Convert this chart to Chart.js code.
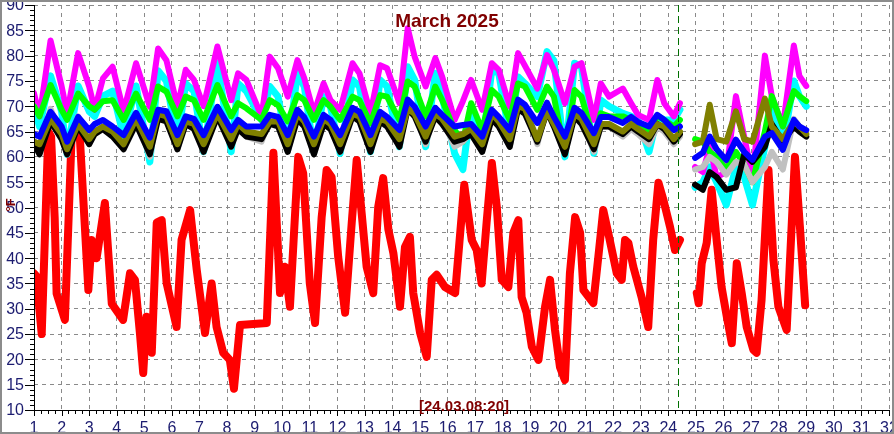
<!DOCTYPE html>
<html>
<head>
<meta charset="utf-8">
<title>March 2025</title>
<script src="https://cdn.jsdelivr.net/npm/chart.js@4/dist/chart.umd.min.js"></script>
<style>
  html, body { margin: 0; padding: 0; background: #fff; }
  #wrap { width: 894px; height: 434px; }
</style>
</head>
<body>
<div id="wrap"><canvas id="grafico" width="894" height="434"></canvas></div>
<script>
const TITULO = "March 2025";
const CARIMBO = "[24.03.08:20]";
const UNIDADE = "°F";
const MARCA_DIA = 24.35;
const X_TICKS = [1, 2, 3, 4, 5, 6, 7, 8, 9, 10, 11, 12, 13, 14, 15, 16, 17, 18, 19, 20, 21, 22, 23, 24, 25, 26, 27, 28, 29, 30, 31, 32];
const Y_TICKS = [10, 15, 20, 25, 30, 35, 40, 45, 50, 55, 60, 65, 70, 75, 80, 85, 90];
const GAP_AT = 24.7;

// sensores "de cima" - dois trechos (antes e depois da falha)
const TEMPOS_A = [1.0, 1.2, 1.6, 2.0, 2.2, 2.6, 3.0, 3.2, 3.5, 3.85,
  4.25, 4.7, 5.2, 5.5, 5.8, 6.2, 6.5, 6.8, 7.15, 7.65,
  8.15, 8.4, 8.7, 9.25, 9.55, 9.85, 10.2, 10.55, 10.8, 11.15,
  11.5, 11.75, 12.1, 12.55, 12.8, 13.2, 13.55, 13.8, 14.25, 14.55,
  14.8, 15.2, 15.55, 15.8, 16.25, 16.55, 16.85, 17.25, 17.6, 17.85,
  18.25, 18.55, 18.8, 19.25, 19.6, 19.85, 20.25, 20.6, 20.85, 21.3,
  21.55, 21.85, 22.35, 22.65, 22.9, 23.3, 23.6, 23.85, 24.2, 24.42];
const TEMPOS_B = [24.97, 25.25, 25.5, 25.75, 26.1, 26.45, 26.75, 27.05, 27.5, 27.75, 28.15, 28.55, 28.75, 29.0];

const AZUL_A = [64.5, 64, 68.9, 66, 63, 67.9, 65.3, 66.5, 67.3, 66,
  64.3, 68.7, 63.8, 69.3, 69, 64.3, 68, 67.5, 64.3, 69.9,
  65.3, 67.3, 66, 66, 68.3, 67.9, 64.3, 69.3, 67.8, 64,
  68.3, 67.3, 64.3, 69.7, 68.9, 64.3, 68.9, 67.9, 65.3, 71.3,
  69.9, 66, 69.7, 68.3, 66, 66.3, 66.5, 64, 69.3, 67.9,
  65.3, 71.3, 70.3, 66.7, 70.7, 67.9, 64, 69.7, 68.7, 64.7,
  67.9, 67.9, 66.7, 67.9, 66.9, 66, 68.3, 67.3, 65.3, 66];
const AZUL_B = [59.8, 60.8, 64, 61.5, 59.4, 63.4, 61, 59.4, 64, 64.7, 61.4, 67.3, 66, 65.3];

const OLIVA_A = [63, 62.5, 67.5, 64.5, 61.5, 66.5, 63.5, 65, 66, 65,
  62.5, 67.5, 62, 68.5, 68, 62.5, 67, 66.5, 62.5, 68.5,
  63.5, 66.5, 65, 64.5, 67, 67, 62.5, 68.5, 67, 62.5,
  67.5, 66.5, 62.5, 68.5, 68, 62.5, 67.5, 67, 63.5, 69.5,
  68.5, 64, 68.5, 67.5, 64, 64.5, 65.5, 62.5, 68.5, 67,
  63.5, 70, 69.5, 63.5, 69, 66.5, 62, 68.5, 67.5, 62.5,
  66.5, 66.5, 65, 66.5, 65.5, 64, 66.5, 66, 63.5, 65];
const OLIVA_B = [62.5, 63, 70.3, 63.5, 63, 69, 63.5, 63, 71.5, 66, 63.5, 67, 66, 64.5];

const PRETO_A = [62.5, 60.5, 67, 63.5, 60.5, 66, 62.5, 64.5, 65.5, 64,
  61.5, 66.5, 60.5, 67.5, 67, 61.5, 66.5, 65.5, 61, 68,
  62, 65.5, 64, 63.5, 66.5, 66, 61, 67.5, 66, 60.5,
  66.5, 65.5, 61, 68, 67, 61, 67, 66, 62, 69.5,
  68, 63, 68, 66.5, 63, 63.5, 64.5, 61, 67.5, 66,
  62, 69.5, 68.5, 63, 69, 66, 60.5, 68, 66.5, 61.5,
  66, 66, 64.5, 66, 65, 63.5, 66.5, 65.5, 63, 64.5];
const PRETO_B = [54.5, 53.5, 57, 56, 53.5, 54, 60.5, 59, 62, 66.5, 63, 66, 65, 64];

const CINZA_A = [63.5, 61.5, 69.5, 64, 60.5, 68, 62.5, 65, 66.5, 65,
  61.5, 68, 60, 69, 68.5, 61.5, 67.5, 66.5, 61, 69,
  62, 66.5, 64, 63, 67.5, 67, 61, 68.5, 67, 60.5,
  67.5, 66.5, 61, 69, 68, 61.5, 68, 67, 62, 70.5,
  69, 62.5, 69, 67.5, 62, 63, 65, 61, 68.5, 67,
  62, 70.5, 69.5, 62.5, 70, 66.5, 60.5, 69, 67.5, 61,
  66, 66, 64, 65.5, 64.5, 62.5, 66, 65, 62.5, 64];
const CINZA_B = [57.5, 58, 60, 59, 56.5, 59, 58.5, 55, 58, 61, 57.5, 67.5, 66, 65];

const VERDE_A = [70, 68, 74.2, 69.3, 67.3, 72.5, 70, 69.3, 71, 71.2,
  67.3, 72.5, 67.3, 73.9, 72.9, 68, 71.9, 71.2, 67.3, 74.2,
  68, 70.6, 69.6, 67.3, 71.2, 70.2, 67, 72.2, 71.2, 67.3,
  71.2, 69.9, 67.3, 71.9, 71.2, 66.6, 72.2, 71.9, 67.3, 74.9,
  73.9, 68, 73.9, 71.2, 65.3, 63, 70.6, 65.3, 73.2, 71.9,
  67.3, 74.5, 73.9, 69.3, 73.9, 71.9, 60.7, 73.2, 71.9, 63.3,
  68.6, 68, 68, 67.3, 66.6, 65.3, 68, 67.3, 66, 67.3];
const VERDE_B = [63.5, 63, 61, 60, 57.5, 61, 58.5, 55, 65, 72, 66, 73, 72, 71];

const CIANO_A = [70, 66, 76, 69, 60.5, 74, 69, 68, 72, 73,
  64, 74, 59, 77, 75, 63, 74.5, 73, 61, 78.5,
  61, 74.5, 73, 67.3, 73.9, 71.9, 61.5, 76.5, 73.9, 61,
  71.9, 69.9, 60.7, 75.2, 73.9, 61, 75.2, 73.9, 62, 77.8,
  75.2, 62, 76.5, 71.9, 60.7, 57.5, 70, 62, 77.2, 76.5,
  64, 75.8, 74.5, 71.9, 80.8, 79, 60, 78.5, 77.8, 60.7,
  71.2, 70, 68.6, 68, 67.3, 61, 68, 67.3, 67.3, 69.3];
const CIANO_B = [54, 55, 58, 55, 50.5, 58, 56, 50.5, 62, 70, 62, 75, 72, 70];

const MAGENTA_A = [72.6, 68, 83, 74, 68.6, 80.5, 73.9, 69.3, 75.5, 77.8,
  69, 78.5, 69.9, 81.4, 79.1, 69.9, 77.2, 75.2, 70, 81.8,
  71.2, 76.5, 75.2, 68, 79.8, 77.5, 71.9, 79.1, 75.5, 68.6,
  74.5, 71.2, 69.3, 78.5, 76.5, 68.6, 78.1, 77.5, 70.6, 85.4,
  79.8, 73.9, 79.5, 75.8, 67.3, 71, 75.2, 69.3, 78.5, 77.2,
  69.9, 80.5, 78, 73.5, 80.1, 77.2, 70.6, 77.8, 78.5, 67.3,
  74.5, 71.9, 73.5, 70.6, 68.3, 67.3, 75.2, 70.6, 68, 70.6];
const MAGENTA_B = [58, 57, 62, 56, 57, 72, 64, 56, 80, 72, 66, 82, 76, 74];

// sensor externo (vermelho)
const VERM_T_A = [1.0, 1.08, 1.28, 1.52, 1.62, 1.75, 1.82, 2.12, 2.37, 2.65,
  2.85, 2.97, 3.09, 3.27, 3.57, 3.82, 4.23, 4.48, 4.66, 4.84,
  4.96, 5.08, 5.27, 5.45, 5.63, 5.81, 6.17, 6.35, 6.66, 6.9,
  7.2, 7.44, 7.62, 7.86, 8.1, 8.25, 8.47, 9.44, 9.68, 9.8,
  9.92, 10.1, 10.28, 10.58, 10.76, 11.0, 11.19, 11.43, 11.61, 11.79,
  12.03, 12.28, 12.52, 12.7, 12.88, 13.06, 13.3, 13.48, 13.66, 13.85,
  14.03, 14.27, 14.45, 14.63, 14.75, 15.0, 15.24, 15.42, 15.6, 15.9,
  16.27, 16.6, 16.87, 17.05, 17.23, 17.41, 17.6, 17.78, 17.96, 18.2,
  18.38, 18.56, 18.68, 18.86, 19.05, 19.29, 19.53, 19.71, 19.89, 20.07,
  20.25, 20.43, 20.62, 20.8, 20.92, 21.28, 21.46, 21.64, 21.82, 22.13,
  22.31, 22.43, 22.55, 22.73, 23.03, 23.27, 23.45, 23.64, 23.82, 24.06,
  24.24, 24.42];
const VERM_A = [37, 36.5, 25, 65, 64, 48, 33, 27.8, 65, 65,
  45.6, 33.7, 43.6, 40, 50.9, 31, 27.8, 37, 35.7, 25.2,
  17.3, 28.4, 21.3, 47, 47.5, 35, 26.4, 43.6, 49.5, 37.7,
  25.2, 35, 26.4, 21.3, 19.9, 14.2, 26.8, 27.2, 60.8, 47,
  33.1, 38.3, 30.4, 60, 56.8, 35, 27.2, 48.1, 57.4, 56,
  40.2, 29.2, 47, 59.4, 48.9, 38.3, 33.1, 50.1, 55.8, 45.6,
  41, 30.4, 42.2, 44.2, 33.1, 25.2, 20.5, 35.7, 36.7, 34.3,
  33.1, 54.5, 43.6, 41.6, 35, 47, 58.8, 50.1, 35.7, 34.3,
  45, 47.5, 32.3, 29.2, 22.5, 19.9, 30.4, 35.7, 25.8, 18.5,
  15.9, 37, 48.1, 45, 33.7, 31.1, 40.2, 49.5, 45, 37,
  35.7, 43.6, 43, 38.3, 32.3, 26.4, 43.6, 54.9, 51.5, 46.2,
  41.6, 43.6];
const VERM_T_B = [25.03, 25.1, 25.21, 25.39, 25.57, 25.75, 25.93, 26.12, 26.3, 26.48, 26.66,
  26.84, 27.08, 27.2, 27.38, 27.63, 27.81, 27.99, 28.29, 28.59, 28.77, 28.96];
const VERM_B = [33.1, 31.1, 39, 43, 53.5, 43.6, 34.3, 28.4, 23.2, 39, 33.1,
  26.4, 21.9, 21.3, 31.7, 57.4, 39.6, 30.4, 25.8, 60, 46.2, 30.7];

const FONTE = "'Liberation Sans', Arial, sans-serif";
const COR_TEXTO = "#1c1c70";
const COR_TITULO = "#800000";

function pontos(tempos, valores) {
  return tempos.map((t, i) => ({ x: t, y: valores[i] }));
}

function juntar(tA, vA, tB, vB) {
  return pontos(tA, vA).concat([{ x: GAP_AT, y: null }], pontos(tB, vB));
}

function serie(cor, dados, largura) {
  return {
    data: dados,
    borderColor: cor,
    borderWidth: largura,
    pointRadius: 0,
    fill: false,
    tension: 0,
    spanGaps: false,
    borderJoinStyle: "round",
    borderCapStyle: "round"
  };
}

// eixos, textos e moldura desenhados por cima
const moldura = {
  id: "moldura",
  afterDraw(chart) {
    const ctx = chart.ctx;
    const area = chart.chartArea;
    const sx = chart.scales.x;
    const sy = chart.scales.y;
    ctx.save();

    // linha tracejada verde da última leitura
    const xm = Math.round(sx.getPixelForValue(MARCA_DIA)) + 0.5;
    ctx.strokeStyle = "#007000";
    ctx.lineWidth = 1;
    ctx.setLineDash([7, 4]);
    ctx.beginPath();
    ctx.moveTo(xm, area.top);
    ctx.lineTo(xm, area.bottom);
    ctx.stroke();
    ctx.setLineDash([]);

    // eixos
    ctx.strokeStyle = "#000";
    ctx.beginPath();
    ctx.moveTo(area.left + 0.5, area.top);
    ctx.lineTo(area.left + 0.5, area.bottom + 0.5);
    ctx.lineTo(area.right, area.bottom + 0.5);
    ctx.stroke();

    // marcas do eixo y (a cada 1, maiores a cada 5)
    ctx.beginPath();
    for (let v = Y_TICKS[0]; v <= Y_TICKS[Y_TICKS.length - 1]; v++) {
      const y = Math.round(sy.getPixelForValue(v)) + 0.5;
      const len = v % 5 === 0 ? 9 : 4;
      ctx.moveTo(area.left - len, y);
      ctx.lineTo(area.left, y);
    }
    // marcas do eixo x (a cada 6 h)
    for (let d = X_TICKS[0]; d <= X_TICKS[X_TICKS.length - 1]; d += 0.25) {
      const x = Math.round(sx.getPixelForValue(d)) + 0.5;
      const len = Number.isInteger(d) ? 6 : 4;
      ctx.moveTo(x, area.bottom);
      ctx.lineTo(x, area.bottom + len);
    }
    ctx.stroke();

    // rótulos
    ctx.fillStyle = COR_TEXTO;
    ctx.font = "16px " + FONTE;
    ctx.textAlign = "right";
    ctx.textBaseline = "middle";
    Y_TICKS.forEach(v => ctx.fillText(String(v), area.left - 10, sy.getPixelForValue(v) + 1));
    ctx.textAlign = "center";
    ctx.textBaseline = "alphabetic";
    X_TICKS.forEach(d => ctx.fillText(String(d), sx.getPixelForValue(d), 433));

    // título e carimbo
    ctx.fillStyle = COR_TITULO;
    ctx.font = "bold 19px " + FONTE;
    ctx.fillText(TITULO, 447, 27);
    ctx.font = "bold 15px " + FONTE;
    ctx.fillText(CARIMBO, 464, 411);

    // unidade girada
    ctx.save();
    ctx.translate(11, 205);
    ctx.rotate(-Math.PI / 2);
    ctx.font = "bold 13px " + FONTE;
    ctx.textBaseline = "middle";
    ctx.fillText(UNIDADE, 0, 0);
    ctx.restore();

    // moldura cinza
    ctx.strokeStyle = "#8c8c8c";
    ctx.lineWidth = 2;
    ctx.strokeRect(1, 1, chart.width - 2, chart.height - 2);
    ctx.restore();
  }
};

const datasets = [
  serie("#0000ff", juntar(TEMPOS_A, AZUL_A, TEMPOS_B, AZUL_B), 6),
  serie("#808000", juntar(TEMPOS_A, OLIVA_A, TEMPOS_B, OLIVA_B), 6),
  serie("#000000", juntar(TEMPOS_A, PRETO_A, TEMPOS_B, PRETO_B), 6),
  serie("#c0c0c0", juntar(TEMPOS_A, CINZA_A, TEMPOS_B, CINZA_B), 6),
  serie("#00ff00", juntar(TEMPOS_A, VERDE_A, TEMPOS_B, VERDE_B), 6),
  serie("#ff00ff", juntar(TEMPOS_A, MAGENTA_A, TEMPOS_B, MAGENTA_B), 6),
  serie("#00ffff", juntar(TEMPOS_A, CIANO_A, TEMPOS_B, CIANO_B), 7),
  serie("#ff0000", juntar(VERM_T_A, VERM_A, VERM_T_B, VERM_B), 8)
];

const eixo = (min, max, passo) => ({
  type: "linear",
  min, max,
  ticks: { display: false, stepSize: passo },
  grid: { color: "#8a8a8a", lineWidth: 1, drawTicks: false },
  border: { display: false, dash: [4, 4] }
});

new Chart(document.getElementById("grafico"), {
  type: "line",
  data: { datasets },
  options: {
    responsive: false,
    animation: false,
    devicePixelRatio: 1,
    parsing: false,
    layout: { padding: { left: 34, right: 5, top: 5, bottom: 24 } },
    plugins: { legend: { display: false }, tooltip: { enabled: false } },
    scales: {
      x: eixo(1, 32, 1),
      y: eixo(10, 90, 5)
    }
  },
  plugins: [moldura]
});
</script>
</body>
</html>
